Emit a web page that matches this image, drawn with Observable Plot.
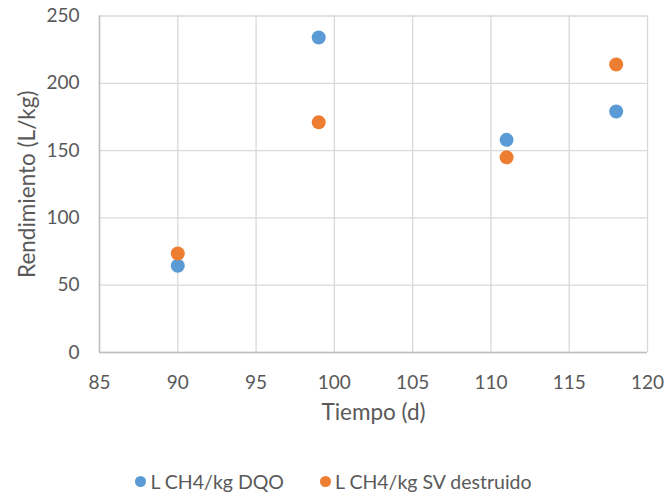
<!DOCTYPE html>
<html>
<head>
<meta charset="utf-8">
<script src="https://cdn.jsdelivr.net/npm/d3@7"></script>
<script src="https://cdn.jsdelivr.net/npm/@observablehq/plot@0.6"></script>
<style>
  html, body { margin: 0; padding: 0; background: #fff; }
  #chart { width: 667px; font-family: Lato, "Open Sans", sans-serif; color: #595959; }
  .legend { display: flex; justify-content: center; align-items: center; gap: 36px; font-size: 19.5px; margin-top: 30px; margin-left: 0px; }
  .legend span.item { display: inline-flex; align-items: center; }
  .legend span.sw { width: 11px; height: 11px; border-radius: 50%; display: inline-block; margin-right: 4px; }
</style>
</head>
<body>
<div id="chart"></div>
<script>
const tiempo = [90, 99, 111, 118];
const dqo = [64.5, 234, 158, 179];
const svDestruido = [73.5, 171, 145, 214];
const seriesNames = ["L CH4/kg DQO", "L CH4/kg SV destruido"];
const seriesColors = ["#5b9bd5", "#ed7d31"];
const xTicks = [85, 90, 95, 100, 105, 110, 115, 120];
const yTicks = [0, 50, 100, 150, 200, 250];
const xLabel = "Tiempo (d)";
const yLabel = "Rendimiento (L/kg)";

const data = [];
tiempo.forEach((t, i) => data.push({t, v: dqo[i], s: seriesNames[0]}));
tiempo.forEach((t, i) => data.push({t, v: svDestruido[i], s: seriesNames[1]}));

const plot = Plot.plot({
  width: 667,
  height: 440,
  marginLeft: 99,
  marginRight: 20,
  marginTop: 15.5,
  marginBottom: 88,
  style: {fontFamily: "Lato, 'Open Sans', sans-serif", fontSize: "19px", color: "#595959", background: "#fff"},
  x: {domain: [85, 120]},
  y: {domain: [0, 250]},
  color: {domain: seriesNames, range: seriesColors},
  marks: [
    Plot.gridX(xTicks, {stroke: "#d9d9d9", strokeOpacity: 1, strokeWidth: 1.3}),
    Plot.gridY(yTicks, {stroke: "#d9d9d9", strokeOpacity: 1, strokeWidth: 1.3}),
    Plot.ruleX([85], {stroke: "#bfbfbf", strokeWidth: 1.5}),
    Plot.ruleY([0], {stroke: "#bfbfbf", strokeWidth: 1.5}),
    Plot.axisX(xTicks, {tickSize: 0, tickPadding: 23, label: null}),
    Plot.axisY(yTicks, {tickSize: 0, tickPadding: 20, label: null}),
    Plot.text([xLabel], {frameAnchor: "bottom", dy: 67, fill: "#595959", fontSize: 22.5}),
    Plot.text([yLabel], {frameAnchor: "left", textAnchor: "middle", lineAnchor: "middle", dx: -72, rotate: -90, fill: "#595959", fontSize: 22.5}),
    Plot.dot(data, {x: "t", y: "v", fill: "s", r: 7, stroke: null})
  ]
});
const root = document.getElementById("chart");
root.appendChild(plot);

const legend = document.createElement("div");
legend.className = "legend";
seriesNames.forEach((n, i) => {
  const item = document.createElement("span");
  item.className = "item";
  const sw = document.createElement("span");
  sw.className = "sw";
  sw.style.background = seriesColors[i];
  item.appendChild(sw);
  item.appendChild(document.createTextNode(n));
  legend.appendChild(item);
});
root.appendChild(legend);
</script>
</body>
</html>
